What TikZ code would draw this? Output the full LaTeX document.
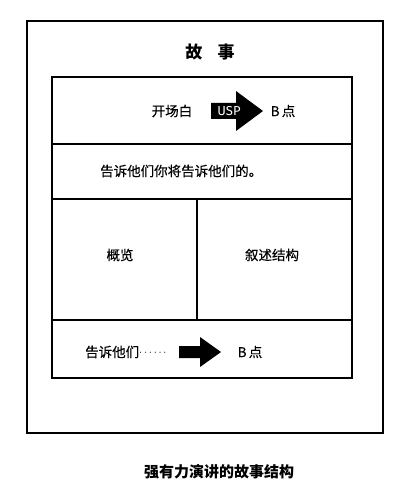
\documentclass[tikz,border=0pt]{standalone}
\usepackage{fontspec}
\setmainfont{Noto Sans CJK SC}
\newfontfamily\cjkmed[FakeBold=0.4]{Noto Sans CJK SC}
\setsansfont{Fira Sans}
\begin{document}
\begin{tikzpicture}[x=1pt,y=-1pt,
  frame/.style={draw=black,line width=1.4pt},
  txt/.style={font=\cjkmed\fontsize{13.5}{15}\selectfont,inner sep=0pt},
  big/.style={font=\fontsize{17}{19}\selectfont\bfseries,inner sep=0pt},
  bigarrow/.style={fill=black,draw=none}]
\useasboundingbox (0,0) rectangle (412,492);
% outer frame
\draw[frame] (27,21) rectangle (383,433);
\node[big] (title) at (210,52) {故\hspace{0.9em}事};
% inner rows
\draw[frame] (52,77) rectangle (352,378);
\draw[frame] (52,144) -- (352,144);
\draw[frame] (52,199) -- (352,199);
\draw[frame] (52,320) -- (352,320);
\draw[frame] (197,199) -- (197,320);
% row 1
\node[txt] (open) at (172,111) {开场白};
\fill[bigarrow] (211,103) -- (236,103) -- (236,91) -- (263,111) -- (236,131) -- (236,119) -- (211,119) -- cycle;
\node[inner sep=0pt,text=white,font=\sffamily\fontsize{13}{15}\selectfont] (usp) at (229,111) {USP};
\node[txt] (b1) at (283,111) {B\,点};
% row 2
\node[txt,anchor=west] (tell) at (100,171) {告诉他们你将告诉他们的。};
% row 3
\node[txt] (over) at (120,255) {概览};
\node[txt] (narr) at (272,255) {叙述结构};
% row 4
\node[txt,anchor=west] (tell2) at (85,352) {告诉他们\raisebox{1.5pt}{\fontsize{11}{12}\selectfont$\cdots\cdots$}};
\fill[bigarrow] (179,346) -- (200,346) -- (200,337) -- (221,352) -- (200,367) -- (200,358) -- (179,358) -- cycle;
\node[txt] (b2) at (250,352) {B\,点};
% caption
\node[big,font=\fontsize{15}{17}\selectfont\bfseries] (cap) at (219,472) {强有力演讲的故事结构};
\end{tikzpicture}
\end{document}
